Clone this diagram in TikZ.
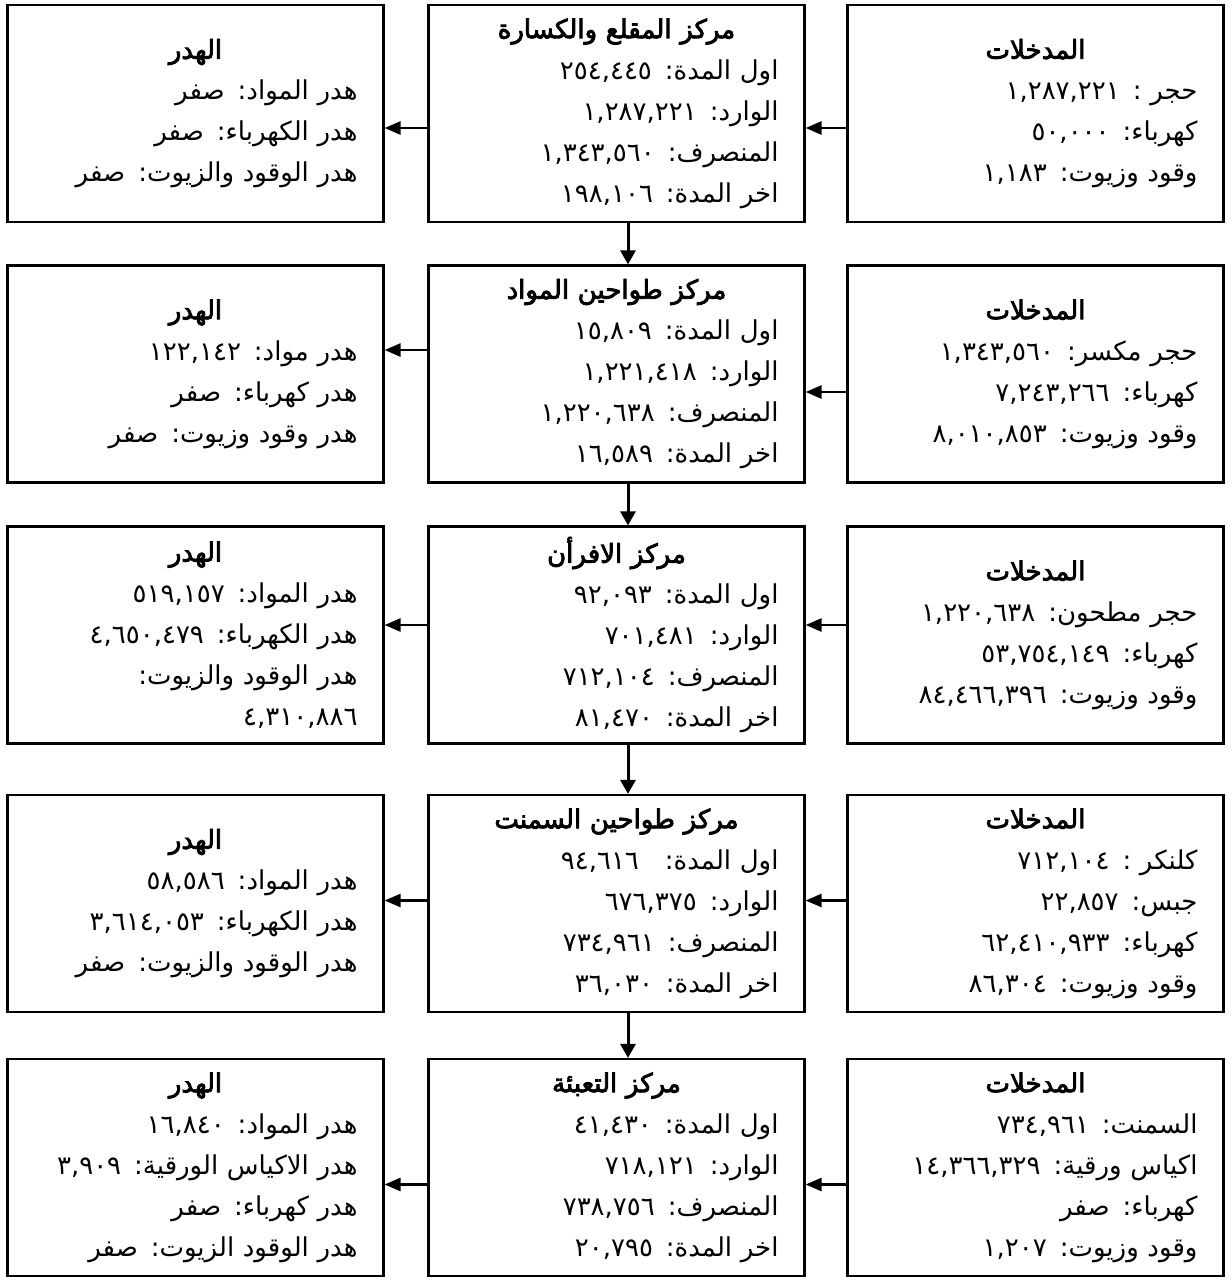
\documentclass[tikz,border=0pt]{standalone}
\usepackage{fontspec}
\newfontfamily\arabicfont[Script=Arabic]{DejaVu Sans}
\newfontfamily\arabictitle[Script=Arabic,FakeBold=3.2]{DejaVu Sans}
\TeXXeTstate=1
\usetikzlibrary{arrows.meta}
\newcommand{\arl}[1]{\beginR#1\endR}
\newcommand{\ttl}[1]{\makebox[\hsize]{\arabictitle\beginR#1\endR}}
\tikzset{
  box/.style={draw, line width=1.1pt, rectangle, text width=162pt, align=right,
    inner xsep=13pt, inner ysep=2pt, minimum height=108.5pt,
    font=\arabicfont\fontsize{13pt}{20.5pt}\selectfont},
  arr/.style={line width=1.3pt, -{Triangle[length=8pt,width=6.5pt]}},
  varr/.style={line width=1.5pt, -{Triangle[length=7pt,width=7.5pt]}}
}
\begin{document}
\begin{tikzpicture}[x=0.5pt,y=-0.5pt]
\useasboundingbox (0,0) rectangle (1232,1281);
% Row 1
\node[box] (w1) at (195.5,113.5) {\ttl{الهدر}\\ \arl{هدر المواد: صفر}\\ \arl{هدر الكهرباء: صفر}\\ \arl{هدر الوقود والزيوت: صفر}};
\node[box] (m1) at (616.5,113.5) {\ttl{مركز المقلع والكسارة}\\ \arl{اول المدة: ٢٥٤,٤٤٥}\\ \arl{الوارد: ١,٢٨٧,٢٢١}\\ \arl{المنصرف: ١,٣٤٣,٥٦٠}\\ \arl{اخر المدة: ١٩٨,١٠٦}};
\node[box] (i1) at (1035.5,113.5) {\ttl{المدخلات}\\ \arl{حجر : ١,٢٨٧,٢٢١}\\ \arl{كهرباء: ٥٠,٠٠٠}\\ \arl{وقود وزيوت: ١,١٨٣}};
% Row 2
\node[box] (w2) at (195.5,374) {\ttl{الهدر}\\ \arl{هدر مواد: ١٢٢,١٤٢}\\ \arl{هدر كهرباء: صفر}\\ \arl{هدر وقود وزيوت: صفر}};
\node[box] (m2) at (616.5,374) {\ttl{مركز طواحين المواد}\\ \arl{اول المدة: ١٥,٨٠٩}\\ \arl{الوارد: ١,٢٢١,٤١٨}\\ \arl{المنصرف: ١,٢٢٠,٦٣٨}\\ \arl{اخر المدة: ١٦,٥٨٩}};
\node[box] (i2) at (1035.5,374) {\ttl{المدخلات}\\ \arl{حجر مكسر: ١,٣٤٣,٥٦٠}\\ \arl{كهرباء: ٧,٢٤٣,٢٦٦}\\ \arl{وقود وزيوت: ٨,٠١٠,٨٥٣}};
% Row 3
\node[box] (w3) at (195.5,635) {\ttl{الهدر}\\ \arl{هدر المواد: ٥١٩,١٥٧}\\ \arl{هدر الكهرباء: ٤,٦٥٠,٤٧٩}\\ \arl{هدر الوقود والزيوت:}\\ \arl{٤,٣١٠,٨٨٦}};
\node[box] (m3) at (616.5,635) {\ttl{مركز الافرأن}\\ \arl{اول المدة: ٩٢,٠٩٣}\\ \arl{الوارد: ٧٠١,٤٨١}\\ \arl{المنصرف: ٧١٢,١٠٤}\\ \arl{اخر المدة: ٨١,٤٧٠}};
\node[box] (i3) at (1035.5,635) {\ttl{المدخلات}\\ \arl{حجر مطحون: ١,٢٢٠,٦٣٨}\\ \arl{كهرباء: ٥٣,٧٥٤,١٤٩}\\ \arl{وقود وزيوت: ٨٤,٤٦٦,٣٩٦}};
% Row 4
\node[box] (w4) at (195.5,903.5) {\ttl{الهدر}\\ \arl{هدر المواد: ٥٨,٥٨٦}\\ \arl{هدر الكهرباء: ٣,٦١٤,٠٥٣}\\ \arl{هدر الوقود والزيوت: صفر}};
\node[box] (m4) at (616.5,903.5) {\ttl{مركز طواحين السمنت}\\ \arl{اول المدة:\quad ٩٤,٦١٦}\\ \arl{الوارد: ٦٧٦,٣٧٥}\\ \arl{المنصرف: ٧٣٤,٩٦١}\\ \arl{اخر المدة: ٣٦,٠٣٠}};
\node[box] (i4) at (1035.5,903.5) {\ttl{المدخلات}\\ \arl{كلنكر : ٧١٢,١٠٤}\\ \arl{جبس: ٢٢,٨٥٧}\\ \arl{كهرباء: ٦٢,٤١٠,٩٣٣}\\ \arl{وقود وزيوت: ٨٦,٣٠٤}};
% Row 5
\node[box] (w5) at (195.5,1167.5) {\ttl{الهدر}\\ \arl{هدر المواد: ١٦,٨٤٠}\\ \arl{هدر الاكياس الورقية: ٣,٩٠٩}\\ \arl{هدر كهرباء: صفر}\\ \arl{هدر الوقود الزيوت: صفر}};
\node[box] (m5) at (616.5,1167.5) {\ttl{مركز التعبئة}\\ \arl{اول المدة: ٤١,٤٣٠}\\ \arl{الوارد: ٧١٨,١٢١}\\ \arl{المنصرف: ٧٣٨,٧٥٦}\\ \arl{اخر المدة: ٢٠,٧٩٥}};
\node[box] (i5) at (1035.5,1167.5) {\ttl{المدخلات}\\ \arl{السمنت: ٧٣٤,٩٦١}\\ \arl{اكياس ورقية: ١٤,٣٦٦,٣٢٩}\\ \arl{كهرباء: صفر}\\ \arl{وقود وزيوت: ١,٢٠٧}};
% horizontal arrows
\draw[arr] ([yshift=-7.25pt]i1.west) -- ([yshift=-7.25pt]m1.east);
\draw[arr] ([yshift=-7.25pt]m1.west) -- ([yshift=-7.25pt]w1.east);
\draw[arr] ([yshift=-9pt]i2.west) -- ([yshift=-9pt]m2.east);
\draw[arr] ([yshift=12pt]m2.west) -- ([yshift=12pt]w2.east);
\draw[arr] ([yshift=5pt]i3.west) -- ([yshift=5pt]m3.east);
\draw[arr] ([yshift=5pt]m3.west) -- ([yshift=5pt]w3.east);
\draw[arr] ([yshift=1.5pt]i4.west) -- ([yshift=1.5pt]m4.east);
\draw[arr] ([yshift=1.5pt]m4.west) -- ([yshift=1.5pt]w4.east);
\draw[arr] ([yshift=-8.5pt]i5.west) -- ([yshift=-8.5pt]m5.east);
\draw[arr] ([yshift=-8.5pt]m5.west) -- ([yshift=-8.5pt]w5.east);
% vertical arrows
\draw[varr] ([xshift=5.75pt]m1.south) -- ([xshift=5.75pt]m2.north);
\draw[varr] ([xshift=5.75pt]m2.south) -- ([xshift=5.75pt]m3.north);
\draw[varr] ([xshift=5.75pt]m3.south) -- ([xshift=5.75pt]m4.north);
\draw[varr] ([xshift=5.75pt]m4.south) -- ([xshift=5.75pt]m5.north);
\end{tikzpicture}
\end{document}
